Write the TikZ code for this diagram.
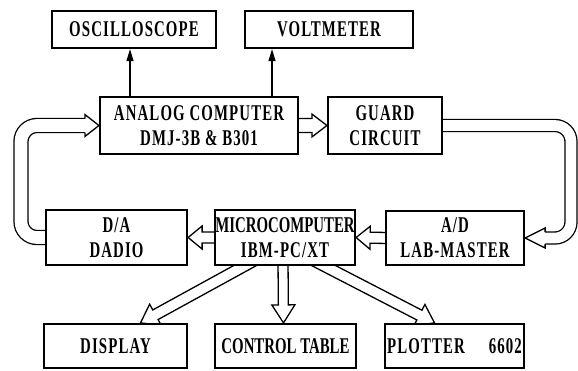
\documentclass[tikz,border=0pt]{standalone}
\usepackage{fontspec}
\setmainfont{Liberation Serif}[FakeStretch=0.66, LetterSpace=5]
\newfontfamily\tightfont{Liberation Serif}[FakeStretch=0.66]
\usetikzlibrary{calc,arrows.meta,backgrounds}

\tikzset{
  box/.style={draw, line width=2.2pt, fill=white, inner sep=0pt, align=center,
              font=\fontsize{22.5}{25}\selectfont\bfseries},
  thinarrow/.style={line width=1.3pt, -{Triangle[length=12pt,width=7pt]}},
  band/.style={draw, line width=1.3pt, fill=white, line join=miter},
  loopband/.style={line width=1.3pt, double=white, rounded corners=16pt},
}

% hollow block arrow: #1 start, #2 tip, #3 shaft half width,
% #4 head half width, #5 head length, #6 name for the head base
\newcommand\blockarrow[6]{%
  \coordinate (#6) at ($(#2)!#5!(#1)$);
  \filldraw[band] ($(#1)!#3!90:(#2)$) -- ($(#6)!#3!-90:(#1)$) -- ($(#6)!#4!-90:(#1)$)
    -- (#2) -- ($(#6)!#4!90:(#1)$) -- ($(#6)!#3!90:(#1)$) -- ($(#1)!#3!-90:(#2)$);
}
% open head only: #1 base, #2 tip, #3 shaft half width, #4 head half width
\newcommand\openhead[4]{%
  \filldraw[band] ($(#1)!#3!90:(#2)$) -- ($(#1)!#4!90:(#2)$) -- (#2)
    -- ($(#1)!#4!-90:(#2)$) -- ($(#1)!#3!-90:(#2)$);
}

\begin{document}
\begin{tikzpicture}[x=1pt, y=-1pt]
\useasboundingbox (0,0) rectangle (578,370);

% instruments
\node[box, minimum width=164pt, minimum height=37pt] (osc)  at (134,29.5) {OSCILLOSCOPE};
\node[box, minimum width=168pt, minimum height=37pt] (volt) at (329,29.5) {VOLTMETER};

% analog side
\node[box, minimum width=198pt, minimum height=57pt] (analog) at (199,125.5) {ANALOG COMPUTER\\DMJ-3B \& B301};
\node[box, minimum width=114pt, minimum height=57pt] (guard)  at (385,125.5) {GUARD\\CIRCUIT};

% converters and computer
\node[box, minimum width=141pt, minimum height=55pt] (da)    at (116.5,237.5) {D/A\\DADIO};
\node[box, minimum width=140pt, minimum height=55pt] (micro) at (285,237.5) {{\tightfont MICROCOMPUTER}\\IBM-PC/XT};
\node[box, minimum width=138pt, minimum height=54pt] (ad)    at (455,238) {A/D\\LAB-MASTER};

% peripherals
\node[box, minimum width=143pt, minimum height=44pt] (display) at (115.5,346) {DISPLAY};
\node[box, minimum width=141pt, minimum height=44pt] (control) at (285.5,346) {{\tightfont CONTROL TABLE}};
\node[box, minimum width=139pt, minimum height=44pt] (plotter) at (454.5,346) {PLOTTER\hspace{24pt}6602};

% signal taps to the instruments
\coordinate (oscfoot)  at ($(osc.south)+(-4,0)$);
\coordinate (voltfoot) at ($(volt.south)+(-57,0)$);
\draw[thinarrow] (oscfoot |- analog.north) -- (oscfoot);
\draw[thinarrow] (voltfoot |- analog.north) -- (voltfoot);

\begin{scope}[on background layer]
  % analog computer -> guard circuit
  \coordinate (agS) at ($(analog.east)+(-4,0)$);
  \blockarrow{agS}{guard.west}{7pt}{11.5pt}{15pt}{agH}

  % guard circuit -> A/D loop
  \coordinate (r1) at (571,0 |- guard.east);
  \coordinate (r2) at (571,0 |- ad.east);
  \coordinate (rbase) at ($(ad.east)+(20,0)$);
  \draw[loopband, double distance=10.7pt] ($(guard.east)+(-4,0)$) -- (r1) -- (r2) -- (rbase);
  \openhead{rbase}{ad.east}{6pt}{10pt}

  % A/D -> microcomputer -> D/A
  \coordinate (amS) at ($(ad.west)+(4,0)$);
  \blockarrow{amS}{micro.east}{5.5pt}{11.5pt}{14pt}{amH}
  \coordinate (mdS) at ($(micro.west)+(4,0)$);
  \blockarrow{mdS}{da.east}{5.5pt}{11.5pt}{14pt}{mdH}

  % D/A -> analog computer loop
  \coordinate (l1) at (21,0 |- da.west);
  \coordinate (l2) at (21,0 |- analog.west);
  \coordinate (lbase) at ($(analog.west)+(-14,0)$);
  \draw[loopband, double distance=12.7pt] ($(da.west)+(4,0)$) -- (l1) -- (l2) -- (lbase);
  \openhead{lbase}{analog.west}{7pt}{11pt}

  % microcomputer -> peripherals
  \coordinate (dispS) at ($(micro.south)+(-30,-6)$);
  \coordinate (dispT) at ($(display.north)+(25,0)$);
  \blockarrow{dispS}{dispT}{5.5pt}{12pt}{17pt}{dispH}
  \coordinate (ctrlS) at ($(micro.south)+(-2,-6)$);
  \coordinate (ctrlT) at ($(control.north)+(-2,0)$);
  \blockarrow{ctrlS}{ctrlT}{5pt}{11.5pt}{18pt}{ctrlH}
  \coordinate (plotS) at ($(micro.south)+(28,-6)$);
  \coordinate (plotT) at ($(plotter.north)+(-20,0)$);
  \blockarrow{plotS}{plotT}{5.5pt}{12pt}{17pt}{plotH}
\end{scope}
\end{tikzpicture}
\end{document}
